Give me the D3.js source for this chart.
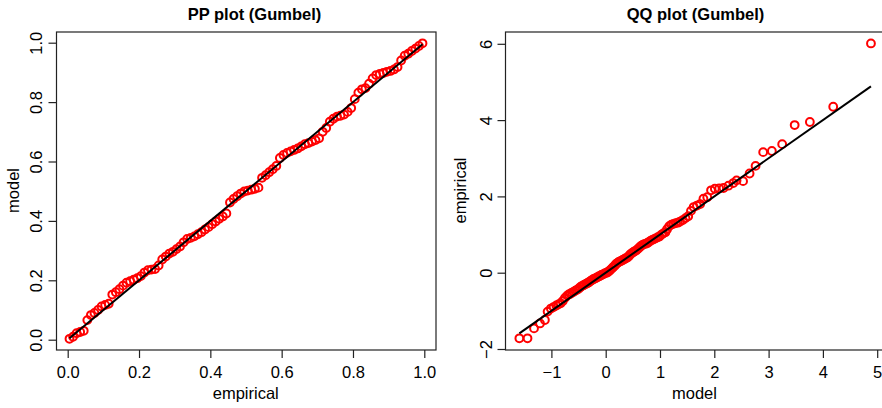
<!DOCTYPE html>
<html>
<head>
<meta charset="utf-8">
<script src="https://cdn.jsdelivr.net/npm/d3@7"></script>
<style>
  body { margin: 0; background: #fff; }
  svg { display: block; font-family: "Liberation Sans", Arial, sans-serif; }
</style>
</head>
<body>
<div id="chart"></div>
<script>
// PP plot: empirical probabilities vs model probabilities
const ppEmpirical = [
  0.005, 0.015, 0.025, 0.035, 0.045, 0.055, 0.065, 0.075, 0.085, 0.095,
  0.105, 0.115, 0.125, 0.135, 0.145, 0.155, 0.165, 0.175, 0.185, 0.195,
  0.205, 0.215, 0.225, 0.235, 0.245, 0.255, 0.265, 0.275, 0.285, 0.295,
  0.305, 0.315, 0.325, 0.335, 0.345, 0.355, 0.365, 0.375, 0.385, 0.395,
  0.405, 0.415, 0.425, 0.435, 0.445, 0.455, 0.465, 0.475, 0.485, 0.495,
  0.505, 0.515, 0.525, 0.535, 0.545, 0.555, 0.565, 0.575, 0.585, 0.595,
  0.605, 0.615, 0.625, 0.635, 0.645, 0.655, 0.665, 0.675, 0.685, 0.695,
  0.705, 0.715, 0.725, 0.735, 0.745, 0.755, 0.765, 0.775, 0.785, 0.795,
  0.805, 0.815, 0.825, 0.835, 0.845, 0.855, 0.865, 0.875, 0.885, 0.895,
  0.905, 0.915, 0.925, 0.935, 0.945, 0.955, 0.965, 0.975, 0.985, 0.995
];
const ppModel = [
  0.003, 0.010, 0.022, 0.026, 0.030, 0.066, 0.083, 0.090, 0.100, 0.112,
  0.117, 0.121, 0.152, 0.160, 0.170, 0.182, 0.192, 0.197, 0.202, 0.207,
  0.214, 0.226, 0.234, 0.236, 0.238, 0.250, 0.270, 0.280, 0.290, 0.296,
  0.305, 0.314, 0.328, 0.339, 0.343, 0.348, 0.355, 0.362, 0.371, 0.379,
  0.389, 0.398, 0.407, 0.415, 0.425, 0.462, 0.474, 0.483, 0.492, 0.499,
  0.502, 0.505, 0.508, 0.512, 0.545, 0.554, 0.564, 0.574, 0.585, 0.612,
  0.622, 0.629, 0.634, 0.639, 0.644, 0.651, 0.658, 0.662, 0.667, 0.672,
  0.678, 0.700, 0.713, 0.734, 0.744, 0.751, 0.754, 0.758, 0.767, 0.780,
  0.810, 0.832, 0.843, 0.847, 0.862, 0.880, 0.891, 0.895, 0.898, 0.902,
  0.905, 0.910, 0.918, 0.940, 0.956, 0.963, 0.972, 0.980, 0.989, 0.998
];

// QQ plot: model quantiles vs empirical quantiles
const qqModel = [
  -1.59, -1.44, -1.32, -1.21, -1.12, -1.07, -1.01, -0.96, -0.91, -0.87,
  -0.83, -0.79, -0.75, -0.71, -0.68, -0.65, -0.62, -0.59, -0.56, -0.53,
  -0.50, -0.47, -0.44, -0.41, -0.39, -0.36, -0.33, -0.31, -0.28, -0.26,
  -0.23, -0.21, -0.18, -0.16, -0.13, -0.11, -0.08, -0.06, -0.03, -0.01,
  0.02, 0.04, 0.07, 0.09, 0.12, 0.14, 0.17, 0.19, 0.22, 0.24,
  0.27, 0.30, 0.32, 0.35, 0.37, 0.40, 0.43, 0.45, 0.48, 0.51,
  0.53, 0.56, 0.59, 0.62, 0.65, 0.68, 0.71, 0.74, 0.77, 0.80,
  0.83, 0.86, 0.89, 0.92, 0.96, 0.99, 1.03, 1.06, 1.10, 1.13,
  1.17, 1.21, 1.25, 1.29, 1.33, 1.37, 1.42, 1.47, 1.52, 1.57,
  1.62, 1.68, 1.74, 1.80, 1.87, 1.94, 2.01, 2.09, 2.17, 2.26,
  2.35, 2.41, 2.53, 2.65, 2.76, 2.90, 3.06, 3.25, 3.48, 3.76,
  4.19, 4.885
];
const qqEmpirical = [
  -1.72, -1.72, -1.46, -1.33, -1.24, -1.02, -0.94, -0.90, -0.86, -0.83,
  -0.80, -0.74, -0.66, -0.60, -0.57, -0.55, -0.52, -0.50, -0.47, -0.45,
  -0.42, -0.38, -0.35, -0.33, -0.31, -0.29, -0.27, -0.25, -0.22, -0.20,
  -0.17, -0.16, -0.14, -0.12, -0.10, -0.09, -0.06, -0.05, -0.03, -0.01,
  0.00, 0.02, 0.05, 0.08, 0.12, 0.15, 0.19, 0.23, 0.26, 0.28,
  0.30, 0.32, 0.34, 0.36, 0.38, 0.40, 0.44, 0.48, 0.51, 0.54,
  0.56, 0.58, 0.62, 0.66, 0.70, 0.73, 0.75, 0.76, 0.78, 0.81,
  0.84, 0.86, 0.88, 0.90, 0.93, 0.95, 1.00, 1.03, 1.06, 1.14,
  1.22, 1.26, 1.28, 1.30, 1.31, 1.34, 1.38, 1.43, 1.48, 1.62,
  1.72, 1.76, 1.80, 1.94, 1.98, 2.16, 2.20, 2.21, 2.22, 2.28,
  2.35, 2.42, 2.40, 2.60, 2.80, 3.16, 3.19, 3.37, 3.87, 3.95,
  4.35, 6.01
];

const ppXTicks = [0, 0.2, 0.4, 0.6, 0.8, 1.0];
const ppYTicks = [0, 0.2, 0.4, 0.6, 0.8, 1.0];
const qqXTicks = [-1, 0, 1, 2, 3, 4, 5];
const qqYTicks = [-2, 0, 2, 4, 6];

const width = 882;
const height = 408;
const fontSize = 16.5;

const svg = d3.select('#chart').append('svg')
    .attr('width', width)
    .attr('height', height);

function drawPanel(opts) {
    const g = svg.append('g');
    const b = opts.box;

    const x = d3.scaleLinear().domain(opts.xDom).range(opts.xRange);
    const y = d3.scaleLinear().domain(opts.yDom).range(opts.yRange);

    // points
    g.append('g')
        .selectAll('circle')
        .data(opts.xs)
        .join('circle')
            .attr('cx', (d) => x(d))
            .attr('cy', (d, i) => y(opts.ys[i]))
            .attr('r', 3.9)
            .attr('fill', 'none')
            .attr('stroke', '#ff0000')
            .attr('stroke-width', 2);

    // reference line, from first to last model value
    const lo = d3.min(opts.lineVals);
    const hi = d3.max(opts.lineVals);
    g.append('line')
        .attr('x1', x(lo)).attr('y1', y(lo))
        .attr('x2', x(hi)).attr('y2', y(hi))
        .attr('stroke', '#000')
        .attr('stroke-width', 2);

    // box
    g.append('rect')
        .attr('x', b.left + 0.5)
        .attr('y', b.top + 0.5)
        .attr('width', b.right - b.left)
        .attr('height', b.bottom - b.top)
        .attr('fill', 'none')
        .attr('stroke', '#222')
        .attr('stroke-width', 1.2);

    // x axis
    g.append('g')
        .attr('transform', `translate(0,${b.bottom + 0.5})`)
        .call(d3.axisBottom(x)
                .tickValues(opts.xTicks)
                .tickFormat(opts.fmt)
                .tickSizeOuter(0)
                .tickSize(8)
                .tickPadding(8))
        .call(g => g.select('.domain').remove())
        .call(g => g.selectAll('.tick line').attr('stroke', '#222').attr('stroke-width', 1.2))
        .call(g => g.selectAll('.tick text')
                    .attr('fill', '#000')
                    .attr('font-size', fontSize + 'px')
                    .attr('font-family', '"Liberation Sans", Arial, sans-serif'));

    // y axis, labels rotated like R's default
    g.append('g')
        .attr('transform', `translate(${b.left + 0.5},0)`)
        .call(d3.axisLeft(y)
                .tickValues(opts.yTicks)
                .tickFormat(opts.yFmt)
                .tickSizeOuter(0)
                .tickSize(8))
        .call(g => g.select('.domain').remove())
        .call(g => g.selectAll('.tick line').attr('stroke', '#222').attr('stroke-width', 1.2))
        .call(g => g.selectAll('.tick text')
                    .attr('transform', 'rotate(-90)')
                    .attr('x', 0)
                    .attr('y', -opts.yLabelGap)
                    .attr('dy', 0)
                    .attr('text-anchor', 'middle')
                    .attr('fill', '#000')
                    .attr('font-size', fontSize + 'px')
                    .attr('font-family', '"Liberation Sans", Arial, sans-serif'));

    // titles
    g.append('text')
        .attr('x', opts.titleX)
        .attr('y', 20)
        .attr('text-anchor', 'middle')
        .attr('font-size', fontSize + 'px')
        .attr('font-weight', 'bold')
        .text(opts.title);
    g.append('text')
        .attr('x', (b.left + b.right) / 2)
        .attr('y', 399)
        .attr('text-anchor', 'middle')
        .attr('font-size', fontSize + 'px')
        .text(opts.xLabel);
    g.append('text')
        .attr('transform', `translate(${opts.yTitleX},${(b.top + b.bottom) / 2}) rotate(-90)`)
        .attr('text-anchor', 'middle')
        .attr('font-size', fontSize + 'px')
        .text(opts.yLabel);
}

drawPanel({
    box: {left: 56, right: 435.5, top: 31.5, bottom: 349.5},
    xDom: [0, 1], xRange: [67.7, 424.3],
    yDom: [0, 1], yRange: [339.7, 42.7],
    xs: ppEmpirical, ys: ppModel, lineVals: ppEmpirical,
    xTicks: ppXTicks, yTicks: ppYTicks,
    fmt: d3.format('.1f'), yFmt: d3.format('.1f'),
    yLabelGap: 15,
    title: 'PP plot (Gumbel)', titleX: 254.5,
    xLabel: 'empirical', yLabel: 'model', yTitleX: 19
});

drawPanel({
    box: {left: 505, right: 884, top: 31.5, bottom: 349.5},
    xDom: [0, 1], xRange: [605.7, 660],
    yDom: [0, 2], yRange: [272.7, 196.4],
    xs: qqModel, ys: qqEmpirical, lineVals: qqModel,
    xTicks: qqXTicks, yTicks: qqYTicks,
    fmt: d3.format('d'), yFmt: d3.format('d'),
    yLabelGap: 14,
    title: 'QQ plot (Gumbel)', titleX: 695.5,
    xLabel: 'model', yLabel: 'empirical', yTitleX: 466
});
</script>
</body>
</html>
